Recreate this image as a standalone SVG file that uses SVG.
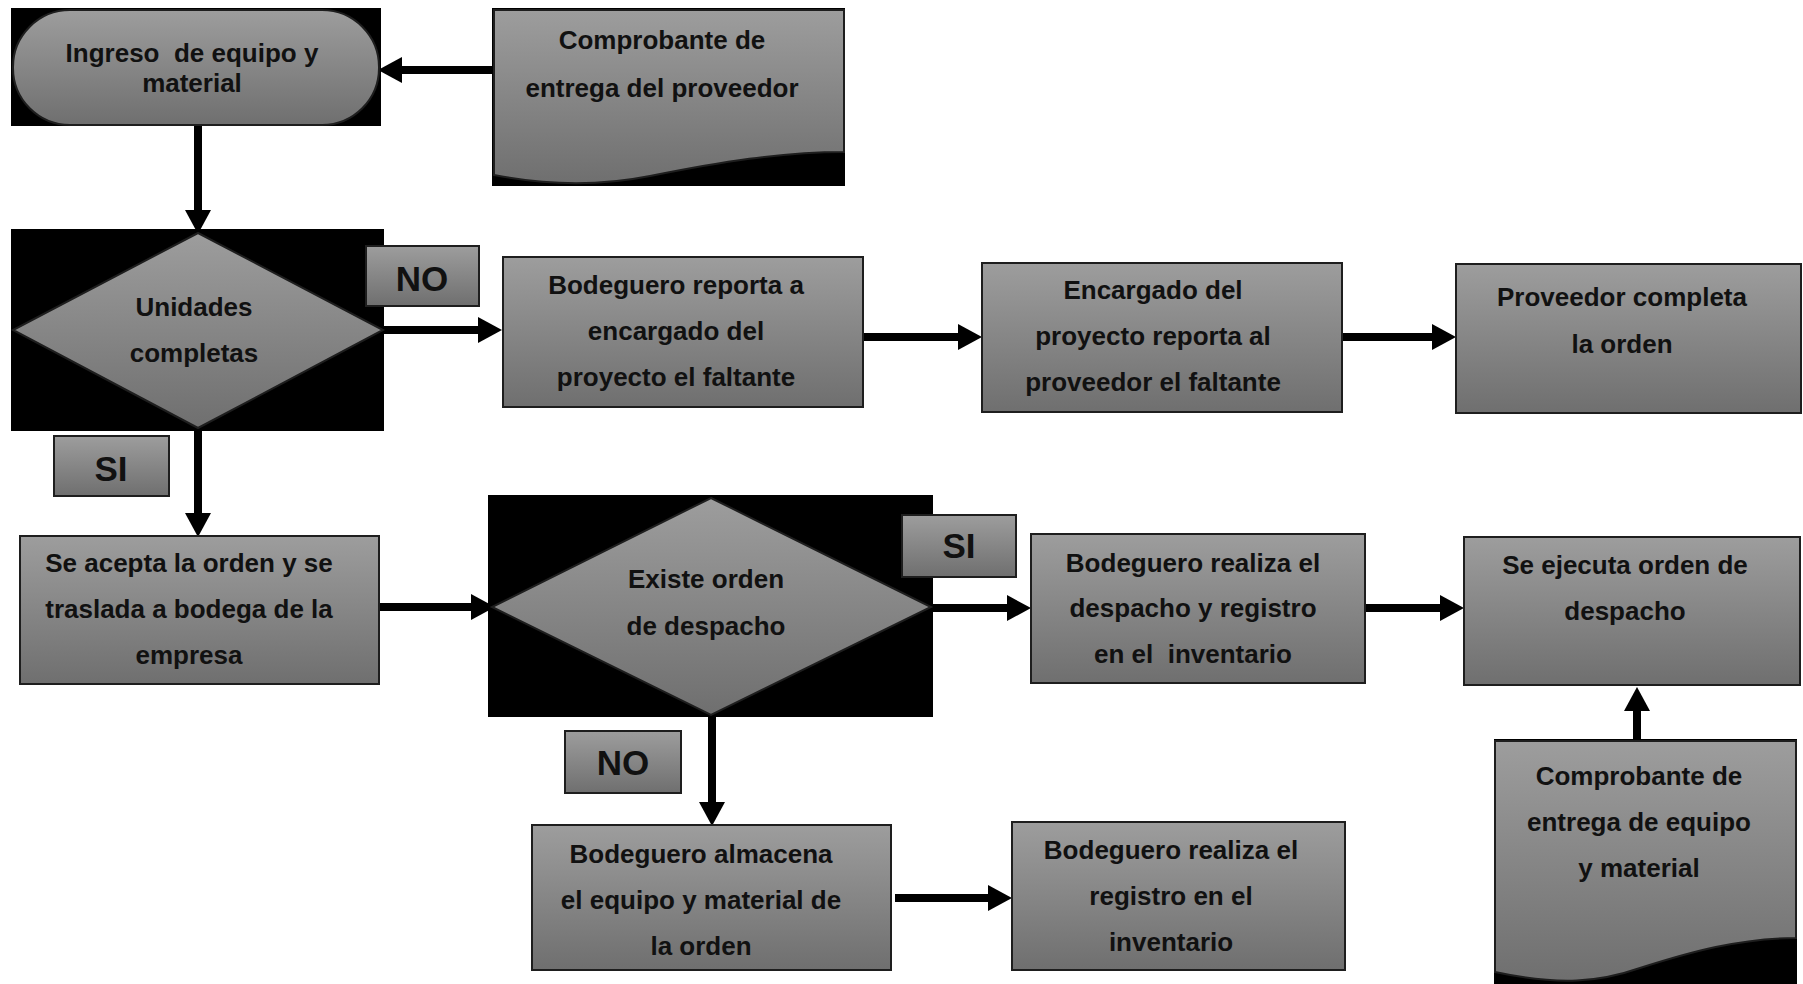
<svg xmlns="http://www.w3.org/2000/svg" width="1803" height="984" viewBox="0 0 1803 984">
<defs>
<linearGradient id="g" x1="0" y1="0" x2="0" y2="1">
<stop offset="0" stop-color="#9d9d9d"/>
<stop offset="1" stop-color="#6f6f6f"/>
</linearGradient>
<marker id="ah" markerUnits="userSpaceOnUse" markerWidth="25" markerHeight="26" refX="0" refY="13" orient="auto" overflow="visible">
<path d="M0,0 L24,13 L0,26 Z" fill="#000"/>
</marker>
<style>
.bg{fill:#000}
.sh{fill:url(#g);stroke:#1e1e1e;stroke-width:2}
.t{font-family:"Liberation Sans",Arial,sans-serif;font-weight:bold;font-size:26px;fill:#111;text-anchor:middle;white-space:pre}
.tl{font-family:"Liberation Sans",Arial,sans-serif;font-weight:bold;font-size:35px;fill:#111;text-anchor:middle}
.c{stroke:#000;stroke-width:8;fill:none;marker-end:url(#ah)}
</style>
</defs>
<rect width="1803" height="984" fill="#fff"/>

<g id="connectors">
<line class="c" x1="494" y1="70" x2="402" y2="70"/>
<line class="c" x1="198" y1="126" x2="198" y2="210"/>
<line class="c" x1="383" y1="330" x2="478" y2="330"/>
<line class="c" x1="863" y1="337" x2="958" y2="337"/>
<line class="c" x1="1342" y1="337" x2="1432" y2="337"/>
<line class="c" x1="198" y1="428" x2="198" y2="513"/>
<line class="c" x1="379" y1="607" x2="471" y2="607"/>
<line class="c" x1="931" y1="608" x2="1007" y2="608"/>
<line class="c" x1="1365" y1="608" x2="1440" y2="608"/>
<line class="c" x1="1637" y1="739" x2="1637" y2="711"/>
<line class="c" x1="712" y1="715" x2="712" y2="802"/>
<line class="c" x1="895" y1="898" x2="988" y2="898"/>
</g>

<g id="n-ingreso">
<rect class="bg" x="11" y="8" width="370" height="118"/>
<rect class="sh" x="13" y="10" width="366" height="115" rx="57" ry="57"/>
<text class="t" x="192" y="62" xml:space="preserve">Ingreso  de equipo y</text>
<text class="t" x="192" y="92">material</text>
</g>

<g id="n-comprobante1">
<rect class="bg" x="492" y="8" width="353" height="178"/>
<path class="sh" d="M494,10 H844 V152 C 780,152 720,162 650,176 C 600,186 545,185 494,175 Z"/>
<text class="t" x="662" y="49">Comprobante de</text>
<text class="t" x="662" y="97">entrega del proveedor</text>
</g>

<g id="n-unidades">
<rect class="bg" x="11" y="229" width="373" height="202"/>
<polygon class="sh" points="198,233 383,330 198,428 13,330"/>
<text class="t" x="194" y="316">Unidades</text>
<text class="t" x="194" y="362">completas</text>
</g>

<g id="l-no1">
<rect class="sh" x="366" y="246" width="113" height="60"/>
<text class="tl" x="422" y="291">NO</text>
</g>

<g id="n-bodeguero-reporta">
<rect class="sh" x="503" y="257" width="360" height="150"/>
<text class="t" x="676" y="294">Bodeguero reporta a</text>
<text class="t" x="676" y="340">encargado del</text>
<text class="t" x="676" y="386">proyecto el faltante</text>
</g>

<g id="n-encargado">
<rect class="sh" x="982" y="263" width="360" height="149"/>
<text class="t" x="1153" y="299">Encargado del</text>
<text class="t" x="1153" y="345">proyecto reporta al</text>
<text class="t" x="1153" y="391">proveedor el faltante</text>
</g>

<g id="n-proveedor">
<rect class="sh" x="1456" y="264" width="345" height="149"/>
<text class="t" x="1622" y="306">Proveedor completa</text>
<text class="t" x="1622" y="353">la orden</text>
</g>

<g id="l-si1">
<rect class="sh" x="54" y="436" width="115" height="60"/>
<text class="tl" x="111" y="481">SI</text>
</g>

<g id="n-se-acepta">
<rect class="sh" x="20" y="536" width="359" height="148"/>
<text class="t" x="189" y="572">Se acepta la orden y se</text>
<text class="t" x="189" y="618">traslada a bodega de la</text>
<text class="t" x="189" y="664">empresa</text>
</g>

<g id="n-existe">
<rect class="bg" x="488" y="495" width="445" height="222"/>
<polygon class="sh" points="711,498 931,607 711,715 492,607"/>
<text class="t" x="706" y="588">Existe orden</text>
<text class="t" x="706" y="635">de despacho</text>
</g>

<g id="l-si2">
<rect class="sh" x="902" y="515" width="114" height="62"/>
<text class="tl" x="959" y="558">SI</text>
</g>

<g id="n-bodeguero-despacho">
<rect class="sh" x="1031" y="534" width="334" height="149"/>
<text class="t" x="1193" y="572">Bodeguero realiza el</text>
<text class="t" x="1193" y="617">despacho y registro</text>
<text class="t" x="1193" y="663" xml:space="preserve">en el  inventario</text>
</g>

<g id="n-se-ejecuta">
<rect class="sh" x="1464" y="537" width="336" height="148"/>
<text class="t" x="1625" y="574">Se ejecuta orden de</text>
<text class="t" x="1625" y="620">despacho</text>
</g>

<g id="n-comprobante2">
<rect class="bg" x="1494" y="739" width="303" height="245"/>
<path class="sh" d="M1495,741 H1796 V938 C 1740,938 1690,952 1640,968 C 1600,982 1560,986 1495,972 Z"/>
<text class="t" x="1639" y="785">Comprobante de</text>
<text class="t" x="1639" y="831">entrega de equipo</text>
<text class="t" x="1639" y="877">y material</text>
</g>

<g id="l-no2">
<rect class="sh" x="565" y="731" width="116" height="62"/>
<text class="tl" x="623" y="775">NO</text>
</g>

<g id="n-almacena">
<rect class="sh" x="532" y="825" width="359" height="145"/>
<text class="t" x="701" y="863">Bodeguero almacena</text>
<text class="t" x="701" y="909">el equipo y material de</text>
<text class="t" x="701" y="955">la orden</text>
</g>

<g id="n-bodeguero-registro">
<rect class="sh" x="1012" y="822" width="333" height="148"/>
<text class="t" x="1171" y="859">Bodeguero realiza el</text>
<text class="t" x="1171" y="905">registro en el</text>
<text class="t" x="1171" y="951">inventario</text>
</g>
</svg>
